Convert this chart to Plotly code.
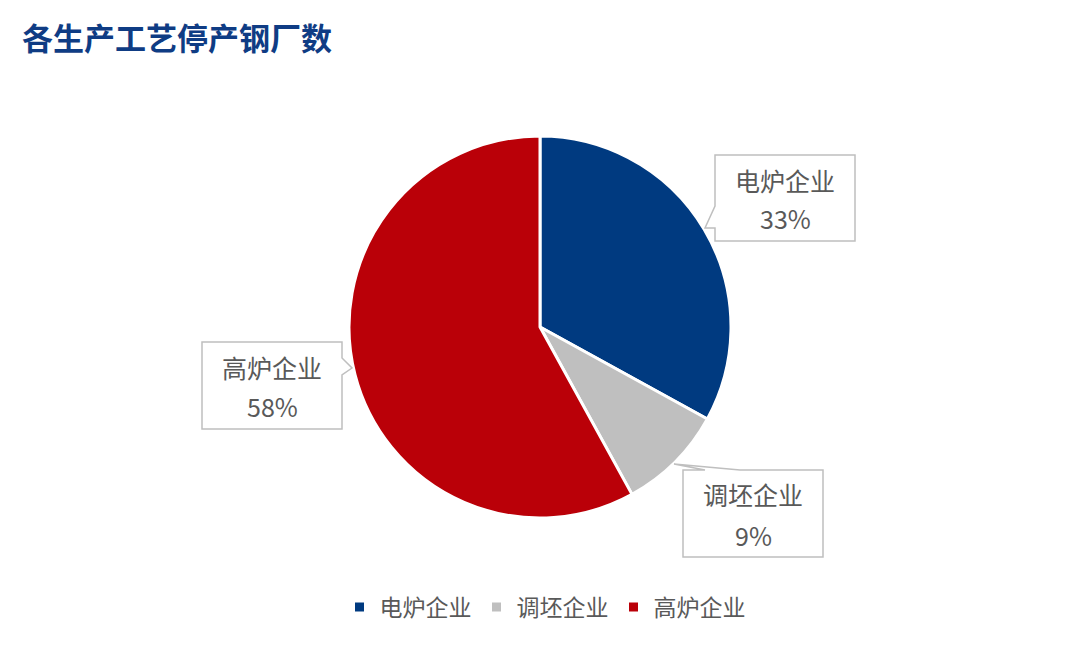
import plotly.graph_objects as go

# data
categories = ["电炉企业", "调坯企业", "高炉企业"]
shares = [33, 9, 58]
colors = ["#003A80", "#BFBFBF", "#BA0008"]

W, H = 1080, 648
OFF = 8  # page body margin pushes the figure by 8px

def px(x):
    return (x - OFF) / W

def py(y):
    return 1 - (y - OFF) / H

fig = go.Figure()
fig.add_trace(go.Pie(
    labels=categories,
    values=shares,
    sort=False,
    direction="clockwise",
    rotation=0,
    marker=dict(colors=colors, line=dict(color="white", width=3)),
    textinfo="none",
    hoverinfo="label+percent",
    domain=dict(x=[px(349), px(731)], y=[py(518), py(136)]),
))

# callout boxes (pixel paths -> paper coords)
boxes = [
    [(715, 155), (855, 155), (855, 241), (715, 241), (715, 228), (705, 228), (715, 206)],
    [(202, 342), (342, 342), (342, 358), (352, 368), (342, 375), (342, 429), (202, 429)],
    [(683, 470), (705, 470), (674, 464), (740, 470), (823, 470), (823, 557), (683, 557)],
]
for pts in boxes:
    path = "M " + " L ".join(f"{px(x):.5f},{py(y):.5f}" for x, y in pts) + " Z"
    fig.add_shape(type="path", path=path, xref="paper", yref="paper",
                  line=dict(color="#BFBFBF", width=1.5), fillcolor="white")

# name line / percent line centres
label_pos = {"电炉企业": (785, 180, 218), "调坯企业": (753, 494, 535), "高炉企业": (272, 367, 406)}
for cat, val in zip(categories, shares):
    x, y1, y2 = label_pos[cat]
    for txt, y in ((cat, y1), (f"{val}%", y2)):
        fig.add_annotation(
            x=px(x), y=py(y), xref="paper", yref="paper", showarrow=False,
            xanchor="center", yanchor="middle", text=txt,
            font=dict(size=25, color="#595959", family="Noto Sans CJK SC"),
        )

fig.add_annotation(
    x=px(20), y=py(37), xref="paper", yref="paper", xanchor="left", yanchor="middle",
    showarrow=False, text="<b>各生产工艺停产钢厂数</b>",
    font=dict(size=31, color="#0F3C84", family="Noto Sans CJK SC"),
)

fig.update_layout(
    width=W, height=H,
    margin=dict(l=0, r=0, t=0, b=0),
    paper_bgcolor="white", plot_bgcolor="white",
    showlegend=True,
    legend=dict(orientation="h", x=px(545), xanchor="center", y=py(607), yanchor="middle",
                font=dict(size=23, color="#595959", family="Noto Sans CJK SC"),
                itemwidth=30, traceorder="normal"),
)

fig.write_html("out.html")
